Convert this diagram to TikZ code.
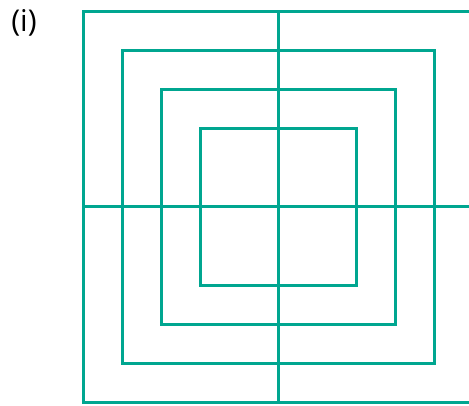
\documentclass[tikz,border=0pt]{standalone}
\usepackage{fontspec}
\setmainfont{Open Sans}
\usepackage{xcolor}
\usepackage{tikz}
\usetikzlibrary{calc}
\definecolor{teal}{HTML}{00A690}

\begin{document}
\begin{tikzpicture}[x=1pt, y=1pt, line width=3pt]
  \useasboundingbox (0,0) rectangle (469,405);
  \clip (0,0) rectangle (469,405);
  \node[font=\fontsize{30}{34}\selectfont, inner sep=0pt] (lbl) at (24,382) {(i)};
  \coordinate (c) at (278,198);
  \foreach \h in {78,117,156,195} {
    \draw[teal] ($(c)+(-\h,-\h)$) rectangle ($(c)+(\h,\h)$);
  }
  \draw[teal] ($(c)+(0,195)$) -- ($(c)+(0,-195)$);
  \draw[teal] ($(c)+(-195,0)$) -- ($(c)+(200,0)$);
\end{tikzpicture}
\end{document}
